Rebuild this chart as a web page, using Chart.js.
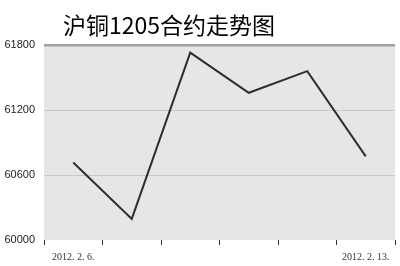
<!DOCTYPE html>
<html><head><meta charset="utf-8">
<script src="https://cdn.jsdelivr.net/npm/chart.js@4/dist/chart.umd.min.js"></script>
<style>html,body{margin:0;padding:0;background:#fff;}#wrap{width:400px;height:266px;position:relative;}</style>
</head><body><div id="wrap"><canvas id="c" width="400" height="266"></canvas></div>
<script>
const titleText = "沪铜1205合约走势图";
const categories = ["2012. 2. 6.", "2012. 2. 7.", "2012. 2. 8.", "2012. 2. 9.", "2012. 2. 10.", "2012. 2. 13."];
const prices = [60716, 60195, 61730, 61359, 61559, 60772];
const yTicks = [60000, 60600, 61200, 61800];

const bgPlugin = {
  id: 'bg',
  beforeDraw(chart) {
    const {ctx, chartArea: a} = chart;
    ctx.save();
    ctx.fillStyle = '#e6e6e6';
    ctx.fillRect(a.left, a.top, a.right - a.left, a.bottom - a.top);
    ctx.restore();
  }
};
const titlePlugin = {
  id: 'ttl',
  afterDraw(chart) {
    const ctx = chart.ctx;
    ctx.save();
    ctx.font = '23px "Noto Sans CJK SC", sans-serif';
    ctx.fillStyle = '#000';
    ctx.textBaseline = 'middle';
    ctx.textAlign = 'left';
    ctx.fillText(titleText, 63, 25);
    ctx.restore();
  }
};

new Chart(document.getElementById('c'), {
  type: 'line',
  data: {
    labels: categories,
    datasets: [{
      data: prices,
      borderColor: '#2e2e2e',
      borderWidth: 2,
      pointRadius: 0,
      tension: 0,
      fill: false
    }]
  },
  options: {
    responsive: false,
    animation: false,
    devicePixelRatio: 1,
    layout: {padding: {top: 45, right: 5, left: 0, bottom: 0}},
    plugins: {legend: {display: false}, tooltip: {enabled: false}, title: {display: false}},
    scales: {
      x: {
        offset: true,
        grid: {offset: true, drawOnChartArea: false, drawTicks: true, tickLength: 5, color: '#333', lineWidth: 1},
        border: {display: false},
        ticks: {
          autoSkip: false, maxRotation: 0, padding: 6,
          color: '#333',
          font: {family: '"Liberation Serif", serif', size: 10},
          callback: function(v, i) { return (i === 0 || i === categories.length - 1) ? categories[i] : ''; }
        },
        afterFit(s) { s.height = 26; }
      },
      y: {
        min: yTicks[0], max: yTicks[yTicks.length - 1],
        afterBuildTicks(s) { s.ticks = yTicks.map(v => ({value: v})); },
        grid: {
          drawTicks: false,
          color: c => c.tick && c.tick.value === yTicks[yTicks.length - 1] ? '#a0a0a0' : (c.tick && c.tick.value === yTicks[0] ? 'rgba(0,0,0,0)' : '#c8c8c8'),
          lineWidth: c => c.tick && c.tick.value === yTicks[yTicks.length - 1] ? 2.5 : 1
        },
        border: {display: false},
        ticks: {
          padding: 9, color: '#222',
          font: {family: '"Liberation Sans", sans-serif', size: 11},
          callback: v => String(v)
        },
        afterFit(s) { s.width = 44; }
      }
    }
  },
  plugins: [bgPlugin, titlePlugin]
});
</script></body></html>
